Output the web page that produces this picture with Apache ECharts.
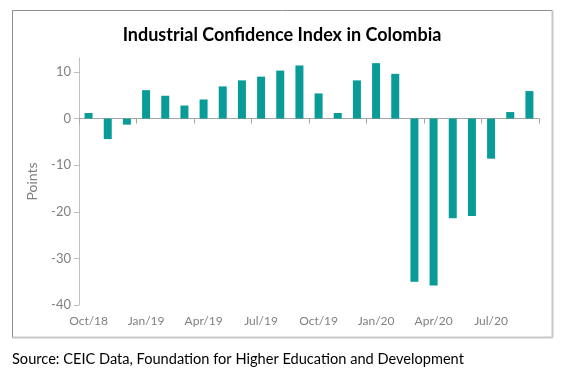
<!DOCTYPE html>
<html><head><meta charset="utf-8">
<script src="https://cdn.jsdelivr.net/npm/echarts@6/dist/echarts.min.js"></script>
<style>html,body{margin:0;padding:0;background:#fff;} #c{width:564px;height:377px;}</style>
</head><body><div id="c"></div>
<script>
const categories = ['Oct/18','Nov/18','Dec/18','Jan/19','Feb/19','Mar/19','Apr/19','May/19','Jun/19','Jul/19','Aug/19','Sep/19',
  'Oct/19','Nov/19','Dec/19','Jan/20','Feb/20','Mar/20','Apr/20','May/20','Jun/20','Jul/20','Aug/20','Sep/20'];
const values = [1.2,-4.4,-1.3,6.1,4.9,2.8,4.1,6.9,8.2,9.0,10.3,11.4,5.4,1.2,8.2,11.9,9.6,-35.0,-35.8,-21.4,-20.9,-8.6,1.4,5.9];
const yTickValues = [-40,-30,-20,-10,0,10];
const titleText = 'Industrial Confidence Index in Colombia';
const yAxisName = 'Points';
const sourceText = 'Source: CEIC Data, Foundation for Higher Education and Development';

const chart = echarts.init(document.getElementById('c'), null, {renderer:'canvas'});
const FONT = 'Lato, "Open Sans", sans-serif';
chart.setOption({
  animation:false,
  title:{text:titleText,left:'center',top:21,textStyle:{fontFamily:FONT,fontWeight:'bold',fontSize:18,color:'#000'}},
  grid:{left:79,right:25,top:58,bottom:72,containLabel:false},
  xAxis:[{
    type:'category',data:categories,position:'bottom',
    axisLine:{show:true,onZero:true,lineStyle:{color:'#a6a6a6',width:1}},
    axisTick:{show:true,interval:2,length:5,lineStyle:{color:'#a6a6a6'}},
    axisLabel:{show:false},splitLine:{show:false}
  },{
    type:'category',data:categories,position:'bottom',
    axisLine:{show:false,onZero:false},axisTick:{show:false},
    axisLabel:{show:true,interval:2,margin:10,color:'#808080',fontFamily:FONT,fontSize:12},
    splitLine:{show:false}
  }],
  yAxis:{
    type:'value',min:-40,max:13,interval:10,
    name:yAxisName,nameLocation:'middle',nameRotate:90,nameGap:40,
    nameTextStyle:{color:'#808080',fontFamily:FONT,fontSize:14},
    axisLine:{show:true,lineStyle:{color:'#bfbfbf'}},
    axisTick:{show:true,length:5,customValues:yTickValues,lineStyle:{color:'#bfbfbf'}},
    axisLabel:{color:'#808080',fontFamily:FONT,fontSize:13,customValues:yTickValues},
    splitLine:{show:false}
  },
  series:[{type:'bar',xAxisIndex:0,data:values,barWidth:8,itemStyle:{color:'#089b97'}}],
  graphic:[
    {type:'line',shape:{x1:12.5,y1:10.5,x2:552.5,y2:10.5},style:{stroke:'#8c8c8c',lineWidth:1}},
    {type:'line',shape:{x1:12.5,y1:10.5,x2:12.5,y2:337.5},style:{stroke:'#8c8c8c',lineWidth:1}},
    {type:'line',shape:{x1:552.5,y1:10.5,x2:552.5,y2:337.5},style:{stroke:'#c8c8c8',lineWidth:2}},
    {type:'line',shape:{x1:12.5,y1:337.5,x2:552.5,y2:337.5},style:{stroke:'#c8c8c8',lineWidth:2}},
    {type:'text',left:12,top:352,style:{text:sourceText,fill:'#000',font:'14.6px '+FONT}}
  ]
});
</script></body></html>
